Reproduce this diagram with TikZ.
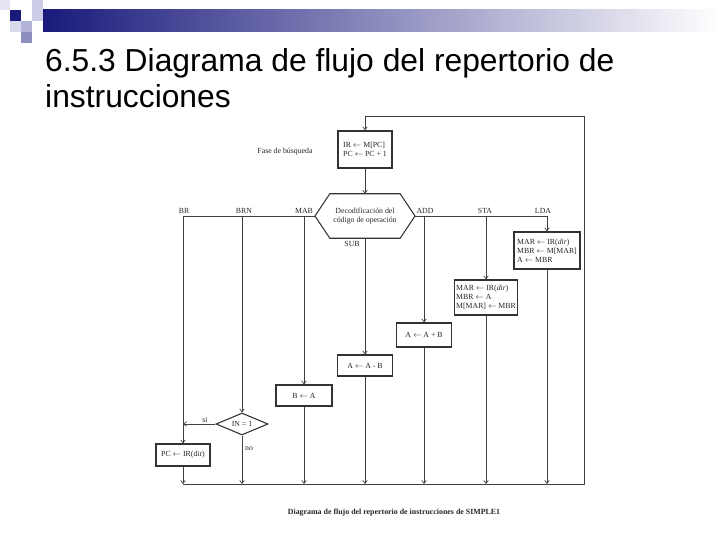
\documentclass[tikz,border=0pt]{standalone}
\usepackage{fontspec}
\setmainfont{Liberation Serif}
\newfontfamily\titlefont{Liberation Sans}
\usetikzlibrary{arrows.meta,calc,shapes.geometric}
\newcommand\diagfont{\fontsize{7.8}{9}\selectfont}
\definecolor{navyhdr}{HTML}{1A1A7C}
\definecolor{sqA}{HTML}{E4E4F2}
\definecolor{sqB}{HTML}{CCCCE6}
\definecolor{sqC}{HTML}{B4B4DA}
\definecolor{sqD}{HTML}{8E8EBE}
\definecolor{sqE}{HTML}{DADAEE}
\begin{document}
\begin{tikzpicture}[x=1pt,y=-1pt,
  ln/.style={draw=black!75, line width=0.7pt},
  arr/.style={ln, -{Straight Barb[length=3pt,width=4.5pt]}},
  box/.style={draw=black!80, line width=1.1pt, fill=white, font=\diagfont, align=left, inner sep=2pt, text=black!85},
  lbl/.style={font=\diagfont, text=black!85, inner sep=1pt}]
\useasboundingbox (0,0) rectangle (720,540);
% header decoration
\fill[sqA] (0,0) rectangle (10,10);
\fill[sqB] (32,0) rectangle (43,10);
\fill[navyhdr] (10,10) rectangle (21,21);
\fill[sqB] (32,10) rectangle (43,21);
\fill[sqE] (10,21) rectangle (21,32);
\fill[sqC] (21,21) rectangle (32,32);
\fill[sqD] (21,32) rectangle (32,43);
\shade[left color=navyhdr, right color=white] (43,10) rectangle (720,32);
% title
\node[anchor=base west, inner sep=0, font=\titlefont\fontsize{31.8}{36}\selectfont] (title1) at (45,72) {6.5.3 Diagrama de flujo del repertorio de};
\node[anchor=base west, inner sep=0, font=\titlefont\fontsize{31.8}{36}\selectfont] (title2) at (45,108) {instrucciones};
% fetch
\node[box, line width=1.3pt, minimum width=54pt, minimum height=37pt] (fetch) at (365,149.5) {IR $\leftarrow$ M[PC]\\PC $\leftarrow$ PC + 1};
\node[lbl] (fase) at (285,152) {Fase de búsqueda};
% decode hexagon
\node[lbl, align=center, minimum width=70pt, minimum height=44pt] (dec) at (365,216) {Decodificación del\\código de operación};
\coordinate (decL) at (315,216);
\coordinate (decR) at (415,216);
\draw[draw=black!80, line width=1.1pt] (decL) -- (dec.north west) -- (dec.north east) -- (decR) -- (dec.south east) -- (dec.south west) -- cycle;
% junctions
\coordinate (jBR) at (183,216);
\coordinate (jBRN) at (242,216);
\coordinate (jMAB) at (304,216);
\coordinate (jADD) at (424,216);
\coordinate (jSTA) at (486,216);
\coordinate (jLDA) at (547,216);
\coordinate (bBR) at (183,484);
\coordinate (bBRN) at (242,484);
\coordinate (bMAB) at (304,484);
\coordinate (bSUB) at (365,484);
\coordinate (bADD) at (424,484);
\coordinate (bSTA) at (486,484);
\coordinate (bLDA) at (547,484);
\coordinate (bR) at (584,484);
\coordinate (tR) at (584,116);
\coordinate (tL) at (365,116);
\coordinate (siPt) at (183,424);
% labels
\node[lbl] (lBR) at (184,210.5) {BR};
\node[lbl] (lBRN) at (244,210.5) {BRN};
\node[lbl] (lMAB) at (304,210.5) {MAB};
\node[lbl] (lADD) at (425,210.5) {ADD};
\node[lbl] (lSTA) at (485,210.5) {STA};
\node[lbl] (lLDA) at (543,210.5) {LDA};
\node[lbl] (lSUB) at (352,244) {SUB};
% boxes
\node[box, line width=1.4pt, minimum width=66pt, minimum height=37pt] (lda) at (547,250.5) {MAR $\leftarrow$ IR(\textit{dir})\\MBR $\leftarrow$ M[MAR]\\A $\leftarrow$ MBR};
\node[box, minimum width=63pt, minimum height=35pt] (sta) at (486,297.5) {MAR $\leftarrow$ IR(\textit{dir})\\MBR $\leftarrow$ A\\M[MAR] $\leftarrow$ MBR};
\node[box, align=center, minimum width=55pt, minimum height=24pt] (add) at (424,335) {A $\leftarrow$ A + B};
\node[box, align=center, minimum width=55pt, minimum height=21pt] (sub) at (365,365.5) {A $\leftarrow$ A - B};
\node[box, align=center, minimum width=56pt, minimum height=21pt] (mab) at (304,395.5) {B $\leftarrow$ A};
\node[draw=black!80, line width=1.1pt, diamond, aspect=2.4, minimum width=52pt, minimum height=22pt, inner sep=0pt, font=\diagfont, text=black!85] (dia) at (242,424) {IN = 1};
\node[box, align=center, minimum width=54pt, minimum height=22pt] (pc) at (183,455) {PC $\leftarrow$ IR(dir)};
\node[lbl] (si) at (205,420) {si};
\node[lbl] (no) at (249,449) {no};
% connectors
\draw[arr] (tR) -- (tL) -- (fetch.north);
\draw[arr] (fetch.south) -- (dec.north);
\draw[ln] (decL) -- (jBR);
\draw[ln] (decR) -- (jLDA);
\draw[arr] (jBR) -- (pc.north);
\draw[arr] (jBRN) -- (dia.north);
\draw[arr] (jMAB) -- (mab.north);
\draw[arr] (dec.south) -- (sub.north);
\draw[arr] (jADD) -- (add.north);
\draw[arr] (jSTA) -- (sta.north);
\draw[arr] (jLDA) -- (lda.north);
\draw[arr] (dia.west) -- (siPt);
\draw[arr] (pc.south) -- (bBR);
\draw[arr] (dia.south) -- (bBRN);
\draw[arr] (mab.south) -- (bMAB);
\draw[arr] (sub.south) -- (bSUB);
\draw[arr] (add.south) -- (bADD);
\draw[arr] (sta.south) -- (bSTA);
\draw[arr] (lda.south) -- (bLDA);
\draw[ln] (bBR) -- (bR) -- (tR);
% caption
\node[lbl, font=\fontsize{7.9}{9}\selectfont\bfseries] (cap) at (394,513) {Diagrama de flujo del repertorio de instrucciones de SIMPLE1};
\end{tikzpicture}
\end{document}
